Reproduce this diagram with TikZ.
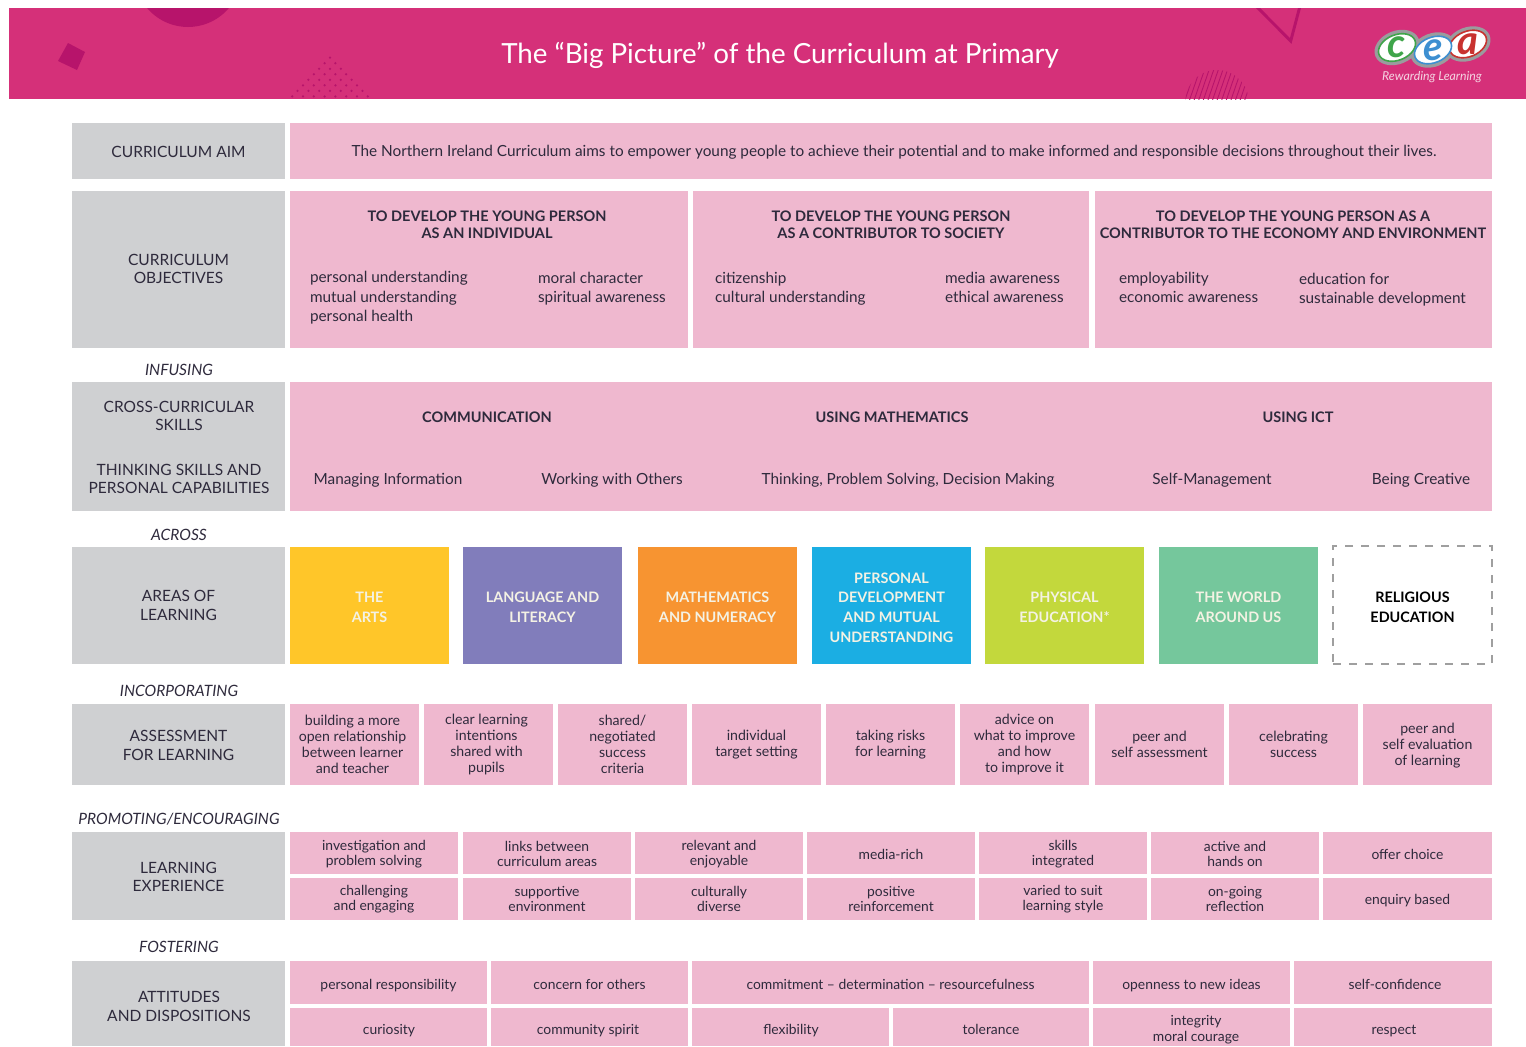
\documentclass[tikz,border=0pt]{standalone}
\usepackage{fontspec}
\usetikzlibrary{shapes.geometric}
\setmainfont{Lato}
\definecolor{band}{HTML}{D53079}
\definecolor{banddark}{HTML}{B7146B}
\definecolor{greyc}{HTML}{CFD0D2}
\definecolor{pinkc}{HTML}{EFB8CF}
\definecolor{inkc}{HTML}{2E2A3C}
\definecolor{artsc}{HTML}{FFC629}
\definecolor{langc}{HTML}{817DBB}
\definecolor{mathc}{HTML}{F79431}
\definecolor{pdc}{HTML}{1BAEE3}
\definecolor{pec}{HTML}{C3D83C}
\definecolor{worldc}{HTML}{75C79C}
\definecolor{softw}{HTML}{F4F2E4}
\definecolor{halo}{HTML}{9A9C9E}
\definecolor{logog}{HTML}{3FA54A}
\definecolor{logob}{HTML}{3D8FD1}
\definecolor{logor}{HTML}{C8322F}
\newcommand\plainbox[6]{\node[#6,minimum width={(#4-#2)*0.75pt},minimum height={(#5-#3)*0.75pt}] (#1) at ({(#2+#4)/2},{(#3+#5)/2}) {};}
\newcommand\cell[7]{\plainbox{#1}{#2}{#3}{#4}{#5}{#6}\node[#6,fill=none,draw=none] (#1t) at ({(#2+#4)/2+\dx},{(#3+#5)/2+\dy}) {#7};}
\newcommand\lab[5][]{\node[labl,#1,#2] (#3) at (#4) {#5};}
\tikzset{
 x=0.75pt,y=-0.75pt,
 base/.style={inner sep=0pt,outer sep=0pt,align=center,text=inkc},
 greybox/.style={base,fill=greyc,font=\fontsize{11.65pt}{13.8pt}\selectfont},
 pinkbox/.style={base,fill=pinkc,font=\fontsize{11.5pt}{14.6pt}\selectfont},
 smallbox/.style={base,fill=pinkc,font=\fontsize{10.6pt}{12pt}\selectfont},
 tinybox/.style={base,fill=pinkc,font=\fontsize{10.4pt}{11.4pt}\selectfont},
 areabox/.style={base,text=softw,font=\fontsize{10.8pt}{14.8pt}\selectfont\bfseries},
 labl/.style={inner sep=0pt,outer sep=0pt,text=inkc},
 head/.style={align=center,font=\fontsize{10.9pt}{13pt}\selectfont\bfseries},
 bodyt/.style={align=left,anchor=west,font=\fontsize{11.5pt}{14.6pt}\selectfont},
 midt/.style={align=center,font=\fontsize{11.5pt}{13pt}\selectfont},
 sidet/.style={align=center,font=\fontsize{11.65pt}{13.8pt}\selectfont},
 smallt/.style={align=center,font=\fontsize{10.4pt}{11.8pt}\selectfont},
 conn/.style={align=center,font=\fontsize{11.7pt}{13pt}\selectfont\itshape},
 halobox/.style={ellipse,fill=halo,minimum width=35pt,minimum height=25pt,inner sep=0,rotate=22},
 logoring/.style={ellipse,draw=#1,line width=1.2pt,fill=white,inner sep=0pt,minimum width=29pt,minimum height=19pt,rotate=22},
 logotext/.style={inner sep=0,text=#1,font=\fontsize{30pt}{30pt}\selectfont\bfseries\itshape},
}
\begin{document}
\begin{tikzpicture}
\useasboundingbox (0,0) rectangle (1526,1046);
\def\dy{1}
\def\dx{0}
% banner
\fill[band] (9,8) rectangle (1526,99);
\begin{scope}
 \clip (9,8) rectangle (1526,99);
 \fill[banddark] (188,-26.7) circle[radius=53.7];
 \fill[banddark] (68,43) -- (85,52) -- (77,70) -- (58,61) -- cycle;
 \foreach \k in {0,...,7}{
  \foreach \i in {0,...,\k}{
   \fill[banddark] ({330+(\i-\k/2)*10.8},{57.7+\k*5.53}) circle[radius=1.25];
  }
 }
 \draw[banddark,line width=2.2pt] (1256,6) -- (1290.7,41) -- (1300,6);
 \begin{scope}
  \clip (1217,101.6) circle[radius=31.6];
  \foreach \s in {0,...,16}{
   \draw[banddark,line width=0.65pt] ({1180+\s*4.6},101) -- ({1192+\s*4.6},66);
  }
 \end{scope}
\end{scope}
\node[inner sep=0,text=white,font=\fontsize{20.8pt}{24pt}\selectfont] (title) at (780,55) {The “Big Picture” of the Curriculum at Primary};
% logo
\node[halobox] (lgc) at (1397,47.5) {};
\node[halobox] (lga) at (1468,44) {};
\node[halobox] (lge) at (1433,50) {};
\node[logoring=logog] (lc) at (1397,47.5) {};
\node[logoring=logor] (la) at (1468,44) {};
\node[logoring=logob] (le) at (1433,50) {};
\node[logotext=logog] (lct) at (1397,47.5) {c};
\node[logotext=logor] (lat) at (1468,44) {a};
\node[logotext=logob] (let) at (1433,50) {e};
\node[inner sep=0,text=pinkc!60!white,font=\fontsize{9.2pt}{10pt}\selectfont\itshape] (rew) at (1432,77) {Rewarding Learning};
% aim
\cell{aimL}{72}{123}{285}{179}{greybox}{CURRICULUM AIM}
\def\dx{3}
\cell{aimR}{290}{123}{1492}{179}{pinkbox}{The Northern Ireland Curriculum aims to empower young people to achieve their potential and to make informed and responsible decisions throughout their lives.}
\def\dx{0}
% objectives
\def\dy{-0.5}
\cell{objL}{72}{191}{285}{348}{greybox}{CURRICULUM\\OBJECTIVES}
\plainbox{ob1}{290}{191}{688}{348}{pinkbox}
\plainbox{ob2}{693}{191}{1089}{348}{pinkbox}
\plainbox{ob3}{1095}{191}{1492}{348}{pinkbox}
\lab{head}{oh1}{487,225}{TO DEVELOP THE YOUNG PERSON\\AS AN INDIVIDUAL}
\lab{head}{oh2}{891,225}{TO DEVELOP THE YOUNG PERSON\\AS A CONTRIBUTOR TO SOCIETY}
\lab{head}{oh3}{1293,225}{TO DEVELOP THE YOUNG PERSON AS A\\CONTRIBUTOR TO THE ECONOMY AND ENVIRONMENT}
\lab{bodyt}{ol1}{310,298}{personal understanding\\mutual understanding\\personal health}
\lab{bodyt}{ol2}{538,288.5}{moral character\\spiritual awareness}
\lab{bodyt}{ol3}{715,288.5}{citizenship\\cultural understanding}
\lab{bodyt}{ol4}{945,287.5}{media awareness\\ethical awareness}
\lab{bodyt}{ol5}{1119,287.5}{employability\\economic awareness}
\lab{bodyt}{ol6}{1299,289.5}{education for\\sustainable development}
% infusing
\lab{conn}{infusing}{179,370}{INFUSING}
\plainbox{crossL}{72}{382}{285}{511}{greybox}
\lab{sidet}{cr1}{179,416}{CROSS-CURRICULAR\\SKILLS}
\lab{sidet}{cr2}{179,479}{THINKING SKILLS AND\\PERSONAL CAPABILITIES}
\plainbox{crossR}{290}{382}{1492}{511}{pinkbox}
\lab{head}{c1}{487,417}{COMMUNICATION}
\lab{head}{c2}{892,417}{USING MATHEMATICS}
\lab{head}{c3}{1298,417}{USING ICT}
\lab{midt}{t1}{388,480}{Managing Information}
\lab{midt}{t2}{612,480}{Working with Others}
\lab{midt}{t3}{908,480}{Thinking, Problem Solving, Decision Making}
\lab{midt}{t4}{1212,480}{Self-Management}
\lab{midt}{t5}{1421,480}{Being Creative}
% across
\lab{conn}{across}{179,535}{ACROSS}
\def\dy{0}
\cell{areaL}{72}{547}{285}{664}{greybox}{AREAS OF\\LEARNING}
\def\dy{2}
\cell{a1}{290}{547}{449}{664}{areabox,fill=artsc}{THE\\ARTS}
\cell{a2}{463}{547}{622}{664}{areabox,fill=langc}{LANGUAGE AND\\LITERACY}
\cell{a3}{638}{547}{797}{664}{areabox,fill=mathc}{MATHEMATICS\\AND NUMERACY}
\cell{a4}{812}{547}{971}{664}{areabox,fill=pdc}{PERSONAL\\DEVELOPMENT\\AND MUTUAL\\UNDERSTANDING}
\cell{a5}{985}{547}{1144}{664}{areabox,fill=pec}{PHYSICAL\\EDUCATION*}
\cell{a6}{1159}{547}{1318}{664}{areabox,fill=worldc}{THE WORLD\\AROUND US}
\cell{a7}{1333}{546}{1492}{664}{areabox,text=black,draw=gray!75,line width=0.8pt,dash pattern=on 6pt off 6pt}{RELIGIOUS\\EDUCATION}
% incorporating
\def\dy{1}
\lab{conn}{incorp}{179,691}{INCORPORATING}
\cell{asL}{72}{704}{285}{785}{greybox}{ASSESSMENT\\FOR LEARNING}
\def\dy{-0.5}
\def\dx{-2}
\cell{as1}{290}{704}{419}{785}{smallbox}{building a more\\open relationship\\between learner\\and teacher}
\cell{as2}{424}{704}{553}{785}{smallbox}{clear learning\\intentions\\shared with\\pupils}
\def\dx{0}
\cell{as3}{558}{704}{687}{785}{smallbox}{shared/\\negotiated\\success\\criteria}
\def\dy{0.5}
\cell{as4}{692}{704}{821}{785}{smallbox}{individual\\target setting}
\cell{as5}{826}{704}{955}{785}{smallbox}{taking risks\\for learning}
\def\dy{-0.5}
\cell{as6}{960}{704}{1089}{785}{smallbox}{advice on\\what to improve\\and how\\to improve it}
\cell{as7}{1095}{704}{1224}{785}{smallbox}{peer and\\self assessment}
\cell{as8}{1229}{704}{1358}{785}{smallbox}{celebrating\\success}
\def\dy{1.5}
\cell{as9}{1363}{704}{1492}{785}{smallbox}{peer and\\self evaluation\\of learning}
% promoting
\def\dy{1}
\lab{conn}{promo}{179,819}{PROMOTING/ENCOURAGING}
\cell{leL}{72}{832}{285}{920}{greybox}{LEARNING\\EXPERIENCE}
\cell{le1}{290}{832}{458}{874}{tinybox}{investigation and\\problem solving}
\cell{le2}{463}{832}{631}{874}{tinybox}{links between\\curriculum areas}
\cell{le3}{635}{832}{803}{874}{tinybox}{relevant and\\enjoyable}
\cell{le4}{807}{832}{975}{874}{tinybox}{media-rich}
\cell{le5}{979}{832}{1147}{874}{tinybox}{skills\\integrated}
\cell{le6}{1151}{832}{1319}{874}{tinybox}{active and\\hands on}
\cell{le7}{1323}{832}{1492}{874}{tinybox}{offer choice}
\def\dy{0}
\cell{lf1}{290}{878}{458}{920}{tinybox}{challenging\\and engaging}
\cell{lf2}{463}{878}{631}{920}{tinybox}{supportive\\environment}
\cell{lf3}{635}{878}{803}{920}{tinybox}{culturally\\diverse}
\cell{lf4}{807}{878}{975}{920}{tinybox}{positive\\reinforcement}
\cell{lf5}{979}{878}{1147}{920}{tinybox}{varied to suit\\learning style}
\cell{lf6}{1151}{878}{1319}{920}{tinybox}{on-going\\reflection}
\def\dy{1.5}
\cell{lf7}{1323}{878}{1492}{920}{tinybox}{enquiry based}
% fostering
\lab{conn}{foster}{179,947}{FOSTERING}
\plainbox{atL}{72}{961}{285}{1046}{greybox}
\lab{sidet}{atT}{179,1006.5}{ATTITUDES\\AND DISPOSITIONS}
\def\dy{3}
\cell{at1}{290}{961}{487}{1004}{tinybox}{personal responsibility}
\def\dy{1.5}
\cell{at2}{491}{961}{688}{1004}{tinybox}{concern for others}
\cell{at3}{692}{961}{1089}{1004}{tinybox}{commitment – determination – resourcefulness}
\def\dy{3}
\cell{at4}{1093}{961}{1290}{1004}{tinybox}{openness to new ideas}
\def\dy{1.5}
\def\dx{2}
\cell{at5}{1294}{961}{1492}{1004}{tinybox}{self-confidence}
\def\dx{0}
\plainbox{au1}{290}{1008}{487}{1046}{tinybox}
\plainbox{au2}{491}{1008}{688}{1046}{tinybox}
\plainbox{au3}{692}{1008}{889}{1046}{tinybox}
\plainbox{au4}{893}{1008}{1089}{1046}{tinybox}
\plainbox{au5}{1093}{1008}{1290}{1046}{tinybox}
\plainbox{au6}{1294}{1008}{1492}{1046}{tinybox}
\lab{smallt}{av1}{389,1031}{curiosity}
\lab{smallt}{av2}{588,1031}{community spirit}
\lab{smallt}{av3}{791,1031}{flexibility}
\lab{smallt}{av4}{991,1029.5}{tolerance}
\lab{smallt}{av5}{1196,1029.5}{integrity\\moral courage}
\lab{smallt}{av6}{1394,1031}{respect}
\end{tikzpicture}
\end{document}
